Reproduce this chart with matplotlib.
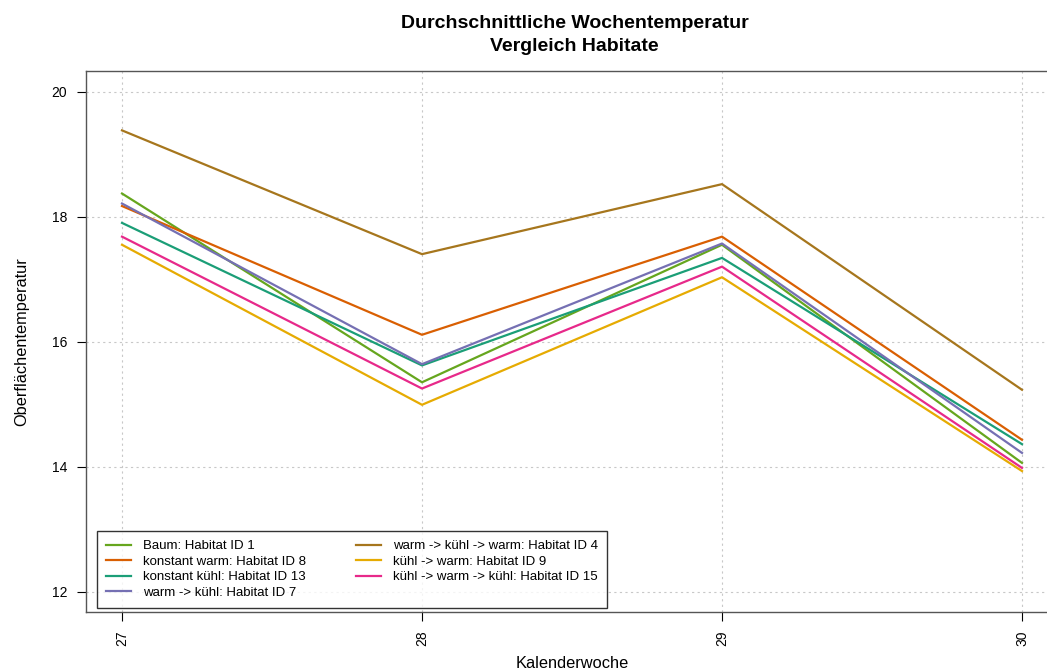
import matplotlib
matplotlib.use("Agg")
import matplotlib.pyplot as plt

plt.rcParams['font.family'] = ['Liberation Sans', 'DejaVu Sans']

# Kalenderwochen
weeks = [27, 28, 29, 30]

# mean surface temperature per habitat
labels = [
	"Baum: Habitat ID 1",
	"konstant warm: Habitat ID 8",
	"konstant kühl: Habitat ID 13",
	"warm -> kühl: Habitat ID 7",
	"warm -> kühl -> warm: Habitat ID 4",
	"kühl -> warm: Habitat ID 9",
	"kühl -> warm -> kühl: Habitat ID 15",
]
id1 = [18.37, 15.35, 17.55, 14.06]
id8 = [18.17, 16.11, 17.68, 14.43]
id13 = [17.90, 15.62, 17.34, 14.36]
id7 = [18.21, 15.64, 17.57, 14.22]
id4 = [19.38, 17.40, 18.52, 15.23]
id9 = [17.55, 14.99, 17.03, 13.93]
id15 = [17.68, 15.25, 17.20, 13.98]

series = [id1, id8, id13, id7, id4, id9, id15]
colors = ["#66A61E", "#D95F02", "#1B9E77", "#7570B3", "#A6761D", "#E6AB02", "#E7298A"]

fig = plt.figure(figsize=(10.47, 6.70), dpi=100)
ax = fig.add_axes([86 / 1047, 58 / 670, 972 / 1047, 541 / 670])

for vals, lab, col in zip(series, labels, colors):
	ax.plot(weeks, vals, color=col, linewidth=1.6, label=lab)

ax.set_xlim(26.88, 30.12)
ax.set_ylim(11.675, 20.33)
ax.set_xticks(weeks)
ax.set_yticks([12, 14, 16, 18, 20])
ax.tick_params(axis='x', labelrotation=90, labelsize=10, length=6.5, pad=7)
ax.tick_params(axis='y', labelsize=10, length=6.5, pad=7)
ax.grid(True, linestyle=(0, (2, 3)), color="#c8c8c8", linewidth=0.8)
for sp in ax.spines.values():
	sp.set_color("#555555")
	sp.set_linewidth(1.0)

ax.set_xlabel("Kalenderwoche", fontsize=11.8, labelpad=7)
ax.set_ylabel("Oberflächentemperatur", fontsize=11.8, labelpad=16)
fig.text(0.549, 0.978, "Durchschnittliche Wochentemperatur\nVergleich Habitate",
	ha="center", va="top", fontsize=14, fontweight="bold", linespacing=1.45)

leg = ax.legend(loc="lower left", bbox_to_anchor=(0.011, 0.007), ncol=2, fontsize=9.5,
	frameon=True, fancybox=False, edgecolor="black", handlelength=1.9,
	handletextpad=0.9, columnspacing=3.8, labelspacing=0.25, borderpad=0.7,
	borderaxespad=0)
leg.get_frame().set_linewidth(1.0)

plt.savefig("out.png", dpi=100)
